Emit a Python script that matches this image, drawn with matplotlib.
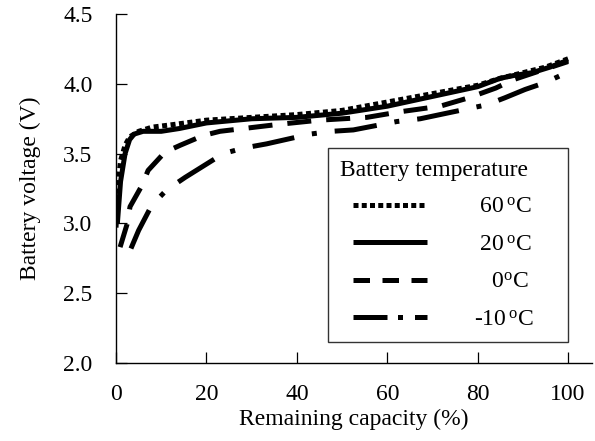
import matplotlib
matplotlib.use("Agg")
import matplotlib.pyplot as plt
from matplotlib.lines import Line2D
from matplotlib.legend_handler import HandlerLine2D

plt.rcParams['font.family'] = ['Liberation Serif', 'DejaVu Serif']
plt.rcParams['mathtext.fontset'] = 'custom'
plt.rcParams['mathtext.rm'] = 'Liberation Serif'
plt.rcParams['mathtext.it'] = 'Liberation Serif:italic'

# data
x_60 = [0, 0.5, 1, 2, 3, 5, 8, 13, 20, 30, 40, 50, 60, 70, 80, 85, 90, 95, 100]
v_60 = [2.97, 3.30, 3.45, 3.56, 3.62, 3.66, 3.69, 3.71, 3.74, 3.76, 3.78, 3.81, 3.87, 3.93, 3.99, 4.04, 4.08, 4.12, 4.18]

x_20 = [0.3, 1, 2, 3, 4, 6, 10, 14, 20, 30, 40, 50, 60, 70, 80, 85, 88, 92, 96, 100]
v_20 = [3.00, 3.30, 3.50, 3.60, 3.64, 3.66, 3.66, 3.68, 3.72, 3.75, 3.76, 3.79, 3.84, 3.91, 3.98, 4.04, 4.06, 4.08, 4.12, 4.17]

x_0 = [0.9, 2.4, 3.1, 5.7, 7.1, 10.8, 14.2, 19.3, 23, 36, 45, 55.5, 62.8, 71.7, 78, 84, 87.9, 95.3, 100]
v_0 = [2.83, 2.99, 3.12, 3.27, 3.38, 3.51, 3.56, 3.63, 3.66, 3.71, 3.74, 3.76, 3.80, 3.84, 3.90, 3.97, 4.03, 4.11, 4.16]

x_m10 = [3.3, 5, 7.9, 11.2, 15.3, 23.7, 28.2, 33.3, 42.9, 47.7, 52.5, 62.1, 67.3, 71.7, 82, 86, 90.5, 95, 99, 100]
v_m10 = [2.82, 2.95, 3.13, 3.24, 3.33, 3.50, 3.54, 3.57, 3.64, 3.66, 3.67, 3.73, 3.75, 3.78, 3.85, 3.90, 3.96, 4.01, 4.07, 4.08]

labels = [" 60$\\,^{\\mathrm{o}}$C", " 20$\\,^{\\mathrm{o}}$C", "   0$^{\\mathrm{o}}$C", "-10$\\,^{\\mathrm{o}}$C"]
legend_title = "Battery temperature"
x_ticks = [0, 20, 40, 60, 80, 100]
y_ticks = [2.0, 2.5, 3.0, 3.5, 4.0, 4.5]

fig = plt.figure(figsize=(5.95, 4.41), dpi=100)
ax = fig.add_axes([0.195, 0.177, 0.80, 0.791])

lw = 3.6
curve_styles = [
    dict(dashes=(1, 0.7), dash_capstyle='butt'),
    dict(linestyle='-', solid_capstyle='butt'),
    dict(dashes=(4.8, 3.0), dash_capstyle='butt'),
    dict(dashes=(8.5, 3.6, 1.0, 3.6), dash_capstyle='butt'),
]
legend_styles = [
    dict(dashes=(1, 0.65), dash_capstyle='butt'),
    dict(linestyle='-', solid_capstyle='butt'),
    dict(dashes=(3.3, 2.5), dash_capstyle='butt'),
    dict(dashes=(6.8, 2.1, 1.0, 2.4), dash_capstyle='butt'),
]
series = [(x_60, v_60), (x_20, v_20), (x_0, v_0), (x_m10, v_m10)]

proxies = []
for (xs, vs), cs, ls, lab in zip(series, curve_styles, legend_styles, labels):
    ax.plot(xs, vs, color='black', lw=lw, **cs)
    proxies.append(Line2D([], [], color='black', lw=lw, label=lab, **ls))

ax.set_xlim(0, 105.3)
ax.set_ylim(2.0, 4.5)
ax.set_xticks(x_ticks)
ax.set_yticks(y_ticks)
ax.set_yticklabels([f"{v:.1f}" for v in y_ticks])
ax.spines['top'].set_visible(False)
ax.spines['right'].set_visible(False)
for s in ('left', 'bottom'):
    ax.spines[s].set_linewidth(1.0)
ax.tick_params(direction='in', length=8, width=0.9, labelsize=17)
ax.tick_params(axis='x', pad=15)
ax.tick_params(axis='y', pad=17)

ax.set_xlabel("Remaining capacity (%)", fontsize=17, labelpad=3)
ax.set_ylabel("Battery voltage (V)", fontsize=17, labelpad=16)

leg = ax.legend(handles=proxies, title=legend_title, loc='lower left',
                bbox_to_anchor=(0.445, 0.060, 0.505, 0.556), mode='expand',
                alignment='left',
                handler_map={Line2D: HandlerLine2D(xpad=0.55)},
                fontsize=17, title_fontsize=17, frameon=True, fancybox=False,
                edgecolor='black', handlelength=3.69, handletextpad=2.0,
                borderpad=0.5, labelspacing=0.67, borderaxespad=0)
leg.get_frame().set_linewidth(1.0)

fig.savefig("out.png", dpi=100)
